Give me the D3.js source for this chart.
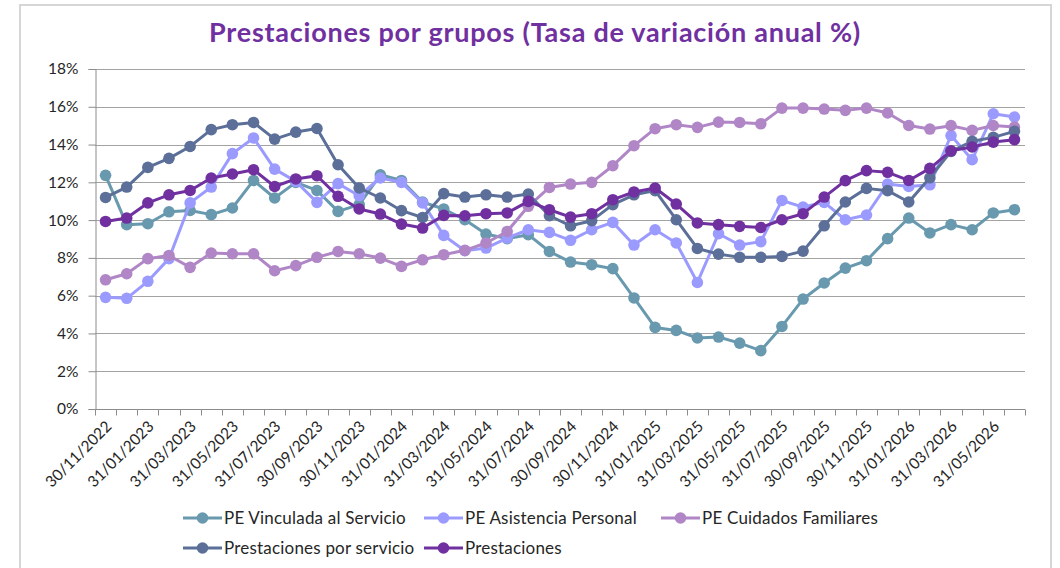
<!DOCTYPE html>
<html>
<head>
<meta charset="utf-8">
<script src="https://cdn.jsdelivr.net/npm/d3@7"></script>
<style>
  body { margin: 0; background: #fff; }
  svg { display: block; }
  text { font-family: Lato, "Open Sans", sans-serif; fill: #262626; }
</style>
</head>
<body>
<svg width="1060" height="568"></svg>
<script>
  // categories (month ends)
  const dates = [
    "30/11/2022","31/12/2022","31/01/2023","28/02/2023","31/03/2023","30/04/2023","31/05/2023","30/06/2023",
    "31/07/2023","31/08/2023","30/09/2023","31/10/2023","30/11/2023","31/12/2023","31/01/2024","29/02/2024",
    "31/03/2024","30/04/2024","31/05/2024","30/06/2024","31/07/2024","31/08/2024","30/09/2024","31/10/2024",
    "30/11/2024","31/12/2024","31/01/2025","28/02/2025","31/03/2025","30/04/2025","31/05/2025","30/06/2025",
    "31/07/2025","31/08/2025","30/09/2025","31/10/2025","30/11/2025","31/12/2025","31/01/2026","28/02/2026",
    "31/03/2026","30/04/2026","31/05/2026","30/06/2026"
  ];

  // series values (%)
  const vinculada = [12.37, 9.76, 9.81, 10.44, 10.51, 10.29, 10.64, 12.10, 11.17, 12.00, 11.57,
    10.46, 10.82, 12.40, 12.10, 10.95, 10.59, 10.02, 9.26, 9.02, 9.23, 8.34,
    7.78, 7.64, 7.43, 5.88, 4.32, 4.16, 3.76, 3.81, 3.49, 3.09, 4.37,
    5.82, 6.67, 7.46, 7.85, 9.02, 10.11, 9.32, 9.76, 9.49, 10.38, 10.55];
  const asistencia = [5.91, 5.86, 6.76, 7.96, 10.91, 11.75, 13.52, 14.35, 12.70, 12.05, 10.94,
    11.93, 11.29, 12.23, 12.00, 10.91, 9.19, 8.38, 8.52, 9.05, 9.49, 9.35,
    8.93, 9.49, 9.88, 8.68, 9.49, 8.79, 6.70, 9.28, 8.68, 8.86, 11.04,
    10.69, 10.94, 10.02, 10.27, 11.91, 11.78, 11.87, 14.48, 13.20, 15.63, 15.46];
  const cuidados = [6.84, 7.16, 7.96, 8.13, 7.50, 8.26, 8.22, 8.22, 7.32, 7.59, 8.03,
    8.34, 8.22, 7.99, 7.55, 7.90, 8.17, 8.40, 8.79, 9.40, 10.73, 11.73,
    11.91, 12.00, 12.88, 13.94, 14.84, 15.05, 14.91, 15.19, 15.17, 15.10, 15.93,
    15.93, 15.88, 15.81, 15.93, 15.67, 15.01, 14.82, 15.00, 14.75, 15.01, 14.93];
  const porServicio = [11.20, 11.75, 12.79, 13.27, 13.90, 14.79, 15.05, 15.17, 14.29, 14.66, 14.85,
    12.93, 11.70, 11.17, 10.50, 10.14, 11.40, 11.22, 11.34, 11.22, 11.38, 10.23,
    9.70, 9.97, 10.82, 11.34, 11.56, 10.02, 8.50, 8.20, 8.03, 8.03, 8.08,
    8.36, 9.70, 10.96, 11.68, 11.56, 10.96, 12.24, 13.64, 14.17, 14.38, 14.70];
  const prestaciones = [9.93, 10.11, 10.91, 11.34, 11.57, 12.23, 12.44, 12.67, 11.78, 12.18, 12.35,
    11.26, 10.59, 10.32, 9.79, 9.58, 10.25, 10.23, 10.34, 10.38, 10.99, 10.55,
    10.16, 10.34, 11.08, 11.49, 11.70, 10.85, 9.85, 9.76, 9.67, 9.61, 10.02,
    10.34, 11.22, 12.09, 12.62, 12.53, 12.10, 12.74, 13.67, 13.87, 14.13, 14.26];

  const seriesNames = ["PE Vinculada al Servicio", "PE Asistencia Personal", "PE Cuidados Familiares",
    "Prestaciones por servicio", "Prestaciones"];
  const seriesColors = ["#6899AE", "#9B9BFF", "#B086C7", "#5B6F98", "#7030A0"];
  const yTicks = [0, 2, 4, 6, 8, 10, 12, 14, 16, 18];

  const series = [vinculada, asistencia, cuidados, porServicio, prestaciones].map((vals, k) => ({
    name: seriesNames[k], color: seriesColors[k], values: vals
  }));

  const svg = d3.select("svg");
  const margin = { top: 69, right: 35, bottom: 159, left: 95 };
  const W = 1060, H = 568;

  // chart border
  svg.append("rect")
    .attr("x", 20).attr("y", 5)
    .attr("width", 1031).attr("height", 600)
    .attr("fill", "none").attr("stroke", "#d6d6d6").attr("stroke-width", 2);

  // title
  svg.append("text")
    .attr("x", 535).attr("y", 42)
    .attr("text-anchor", "middle")
    .style("font-size", "27px").style("font-weight", "bold").style("fill", "#7030A0")
    .style("letter-spacing", "0.75px")
    .text("Prestaciones por grupos (Tasa de variación anual %)");

  const x = d3.scaleBand()
    .domain(d3.range(dates.length))
    .range([margin.left, W - margin.right])
    .padding(0);

  const y = d3.scaleLinear()
    .domain([0, 18])
    .range([H - margin.bottom, margin.top]);

  // gridlines
  svg.append("g")
    .selectAll("line")
    .data(yTicks.filter(d => d > 0))
    .enter().append("line")
    .attr("x1", margin.left).attr("x2", W - margin.right)
    .attr("y1", d => Math.round(y(d)) + 0.5).attr("y2", d => Math.round(y(d)) + 0.5)
    .attr("stroke", "#a3a3a3").attr("stroke-width", 1);

  // y axis
  const yAxis = svg.append("g")
    .attr("transform", `translate(${margin.left + 0.5},0)`)
    .call(d3.axisLeft(y).tickValues(yTicks).tickFormat(d => d + "%").tickSize(7).tickPadding(10));
  yAxis.select(".domain").attr("stroke", "#8c8c8c");
  yAxis.selectAll(".tick line").attr("stroke", "#8c8c8c");
  yAxis.selectAll(".tick text").style("font-size", "15.5px").style("fill", "#262626");

  // x axis: ticks between categories
  const xBase = Math.round(y(0)) + 0.5;
  const xAxis = svg.append("g");
  xAxis.append("line")
    .attr("x1", margin.left).attr("x2", W - margin.right)
    .attr("y1", xBase).attr("y2", xBase)
    .attr("stroke", "#8c8c8c");
  xAxis.selectAll(".xt")
    .data(d3.range(dates.length + 1))
    .enter().append("line")
    .attr("class", "xt")
    .attr("x1", i => Math.round(margin.left + i * x.bandwidth()) + 0.5)
    .attr("x2", i => Math.round(margin.left + i * x.bandwidth()) + 0.5)
    .attr("y1", xBase).attr("y2", xBase + 6)
    .attr("stroke", "#8c8c8c");
  xAxis.selectAll(".xl")
    .data(dates.map((d, i) => ({ d, i })).filter(o => o.i % 2 === 0))
    .enter().append("text")
    .attr("class", "xl")
    .attr("text-anchor", "end")
    .attr("transform", o => `translate(${x(o.i) + x.bandwidth() / 2 + 7},${xBase + 18}) rotate(-45)`)
    .style("font-size", "15.5px")
    .text(o => o.d);

  // lines + markers
  const line = d3.line()
    .x((d, i) => x(i) + x.bandwidth() / 2)
    .y(d => y(d));

  series.forEach(s => {
    const g = svg.append("g");
    g.append("path")
      .datum(s.values)
      .attr("fill", "none")
      .attr("stroke", s.color)
      .attr("stroke-width", 3)
      .attr("stroke-linejoin", "round")
      .attr("d", line);
    g.selectAll("circle")
      .data(s.values)
      .enter().append("circle")
      .attr("cx", (d, i) => x(i) + x.bandwidth() / 2)
      .attr("cy", d => y(d))
      .attr("r", 5.8)
      .attr("fill", s.color);
  });

  // legend
  const legendPos = [[183, 518], [424, 518], [661, 518], [183, 548], [424, 548]];
  series.forEach((s, k) => {
    const [lx, ly] = legendPos[k];
    const g = svg.append("g").attr("transform", `translate(${lx},${ly})`);
    g.append("line")
      .attr("x1", 0).attr("x2", 39).attr("y1", 0).attr("y2", 0)
      .attr("stroke", s.color).attr("stroke-width", 3);
    g.append("circle").attr("cx", 19.5).attr("cy", 0).attr("r", 5.8).attr("fill", s.color);
    g.append("text")
      .attr("x", 41).attr("y", 0).attr("dy", "0.35em")
      .style("font-size", "17px")
      .style("letter-spacing", "0.2px")
      .text(s.name);
  });
</script>
</body>
</html>
